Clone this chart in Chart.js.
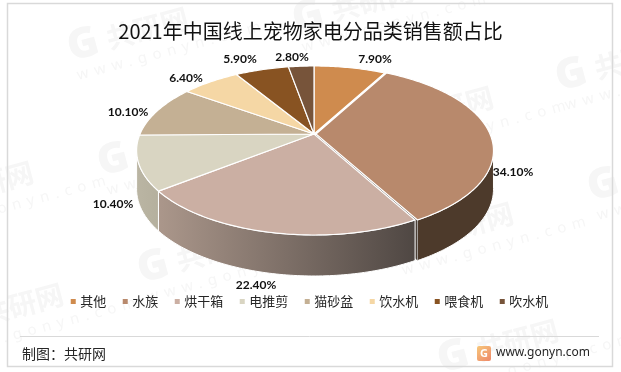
<!DOCTYPE html>
<html><head><meta charset="utf-8">
<style>html,body{margin:0;padding:0;background:#fff}canvas{display:block}</style>
<script src="https://cdn.jsdelivr.net/npm/chart.js@4/dist/chart.umd.js"></script>
</head><body><canvas id="c" width="621" height="372"></canvas>
<script>
const categories=['其他','水族','烘干箱','电推剪','猫砂盆','饮水机','喂食机','吹水机'];
const values=[7.9,34.1,22.4,10.4,10.1,6.4,5.9,2.8];
const valueLabels=['7.90%','34.10%','22.40%','10.40%','10.10%','6.40%','5.90%','2.80%'];
const colors=['#cf8b4e','#b8896c','#cbafa3','#d9d5c2','#c4b094','#f5d7a5','#885322','#77543a'];
const wallColors=[null,['#4d3a2b','#4d3a2b'],['#ab978b','#4f4743'],['#bab5a3','#b5b09e'],null,null,null,null];
const offsets=[0,2,0,0,0,0,0,0];
const labelAnchors=[[375,59],[513,172],[256,285],[113,204],[128,112],[186,78],[240,59],[292,57]];
const watermarks=[[120,50],[345,22],[425,129],[608,80],[-35,204],[150,165],[445,245],[640,190],[190,272],[-5,326],[490,362]];
const P={cx:314,cy:134,rx:174,ry:81.3,p:0.195,depth:38};
function proj(th,r,ox,oy){const u=r*Math.sin(th)+(ox||0),v=-r*Math.cos(th)+(oy||0),w=1-P.p*v;
  return {x:P.cx+P.rx*u/w,y:P.cy+P.ry*v/w,v};}
function offs(el){const o=(el.options.offset||0)/P.rx,m=(el.startAngle+el.endAngle)/2+Math.PI/2;return [o*Math.sin(m),-o*Math.cos(m)];}
Chart.ArcElement.prototype.draw=function(ctx){
  const a=this.startAngle+Math.PI/2,b=this.endAngle+Math.PI/2,[ox,oy]=offs(this),n=Math.max(8,Math.ceil((b-a)*60));
  ctx.save();ctx.beginPath();const c=proj(0,0,ox,oy);ctx.moveTo(c.x,c.y);
  for(let i=0;i<=n;i++){const q=proj(a+(b-a)*i/n,1,ox,oy);ctx.lineTo(q.x,q.y);}
  ctx.closePath();ctx.fillStyle=this.options.backgroundColor;ctx.fill();
  ctx.strokeStyle='#fff';ctx.lineWidth=1.2;ctx.lineJoin='round';ctx.stroke();ctx.restore();
};
function watermark(ctx,x,y){
  ctx.save();ctx.translate(x,y);ctx.rotate(-15*Math.PI/180);ctx.fillStyle='#f6f6f6';
  ctx.textBaseline='middle';ctx.textAlign='left';
  ctx.font='900 42px "Noto Sans"';ctx.fillText('G',-50,-14);
  ctx.font='bold 28px "Noto Sans CJK SC"';ctx.fillText('共研网',-10,-14);
  ctx.font='15px "Noto Sans"';ctx.letterSpacing='6px';ctx.fillText('www.gonyn.com',-48,14);ctx.restore();
}
const frame={id:'frame',beforeDraw(ch){const x=ch.ctx;x.save();x.fillStyle='#fff';x.fillRect(0,0,621,372);
  watermarks.forEach(w=>watermark(x,w[0],w[1]));
  x.strokeStyle='#d9d9d9';x.lineWidth=1.5;x.strokeRect(7.5,3.5,605,363);
  x.lineWidth=1;x.beginPath();x.moveTo(20,336.5);x.lineTo(599,336.5);x.stroke();
  x.fillStyle='#262626';x.font='14px "Noto Sans CJK SC"';x.textBaseline='middle';x.textAlign='left';x.fillText('制图：共研网',22,354);
  x.font='12px "Noto Sans"';x.fillText('www.gonyn.com',496,353);
  const g=x.createLinearGradient(477,346,490,361);g.addColorStop(0,'#f7c77a');g.addColorStop(1,'#ee8a6a');x.fillStyle=g;
  x.beginPath();x.roundRect(477,346,14,15,2);x.fill();x.fillStyle='#fff';x.font='bold 11px "Noto Sans"';x.textAlign='center';x.fillText('G',484,354);
  x.restore();}};
const walls={id:'walls',beforeDatasetsDraw(ch){const x=ch.ctx,els=ch.getDatasetMeta(0).data;
  const lo=101*Math.PI/180,hi=259*Math.PI/180;
  const d=(v)=>P.depth+3*v;
  els.forEach((el,i)=>{const wc=wallColors[i];if(!wc)return;
    const a=Math.max(el.startAngle+Math.PI/2,lo),b=Math.min(el.endAngle+Math.PI/2,hi);if(b<=a)return;
    const [ox,oy]=offs(el),n=Math.ceil((b-a)*60),top=[];
    for(let k=0;k<=n;k++)top.push(proj(a+(b-a)*k/n,1,ox,oy));
    x.save();x.beginPath();top.forEach((q,k)=>k?x.lineTo(q.x,q.y):x.moveTo(q.x,q.y));
    for(let k=n;k>=0;k--){const q=top[k];x.lineTo(q.x,q.y+d(q.v));}x.closePath();
    const xs=top.map(q=>q.x),h=x.createLinearGradient(Math.min(...xs),0,Math.max(...xs),0);
    h.addColorStop(0,wc[0]);h.addColorStop(1,wc[1]);x.fillStyle=h;
    x.fill();x.strokeStyle='#fff';x.lineWidth=1;x.stroke();
    if(el.options.offset){const c=proj(0,0,ox,oy),e=proj(el.endAngle+Math.PI/2,1,ox,oy);
      x.beginPath();x.moveTo(c.x,c.y);x.lineTo(e.x,e.y);x.lineTo(e.x,e.y+d(e.v));x.lineTo(c.x,c.y+P.depth);x.closePath();x.fillStyle='#4a4038';x.fill();}
    x.restore();});
},afterDatasetsDraw(ch){const x=ch.ctx;x.save();x.font='bold 12px Lato';x.fillStyle='#111';x.textAlign='center';x.textBaseline='middle';
  valueLabels.forEach((t,i)=>x.fillText(t,labelAnchors[i][0],labelAnchors[i][1]));x.restore();}};
new Chart(document.getElementById('c'),{type:'pie',plugins:[frame,walls],
 data:{labels:categories,datasets:[{data:values,backgroundColor:colors,offset:offsets,borderWidth:0}]},
 options:{responsive:false,animation:false,events:[],layout:{padding:{bottom:54,top:19}},
  plugins:{tooltip:{enabled:false},
   title:{display:true,text:'2021年中国线上宠物家电分品类销售额占比',color:'#111',font:{family:'"Noto Sans CJK SC"',size:20,weight:'normal'},padding:{top:0,bottom:0}},
   legend:{display:true,position:'bottom',labels:{usePointStyle:true,pointStyle:'rect',boxWidth:1,boxHeight:5,padding:18.5,color:'#262626',font:{family:'"Noto Sans CJK SC"',size:13}}}}}});
</script></body></html>
